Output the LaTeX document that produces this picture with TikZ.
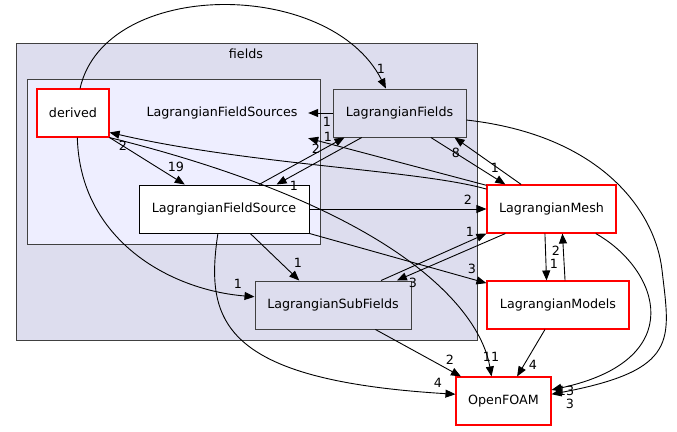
\documentclass[tikz,border=0pt]{standalone}
\usepackage{fontspec}
\setmainfont{DejaVu Sans}
\usetikzlibrary{arrows.meta}
\definecolor{dirFill}{HTML}{DDDDEE}
\definecolor{subFill}{HTML}{EEEEFF}
\definecolor{dirLine}{HTML}{404040}
\definecolor{extRed}{HTML}{FF0000}

\begin{document}
\begin{tikzpicture}[
        x=1pt, y=-1pt,
        font=\fontsize{12.7}{15}\selectfont,
        cluster/.style={rectangle, draw=dirLine, fill=dirFill, line width=1pt, inner sep=0pt},
        subcluster/.style={cluster, fill=subFill},
        dirbox/.style={rectangle, draw=dirLine, fill=dirFill, line width=1pt, minimum height=48pt, inner sep=0pt},
        leaf/.style={rectangle, draw=black, fill=white, line width=1pt, minimum height=48pt, inner sep=0pt},
        ext/.style={rectangle, draw=extRed, fill=white, line width=1.1pt, minimum height=48pt, inner sep=0pt},
        dep/.style={-{Triangle[length=10pt,width=8pt]}, line width=0.9pt},
        num/.style={inner sep=0pt}
    ]
        \useasboundingbox (0,0) rectangle (677,431);

        % Clusters
        \node[cluster, minimum width=461pt, minimum height=297pt] (fields) at (246.5,191.5) {};
        \node (fieldslbl) at (246,54) {fields};
        \node[subcluster, minimum width=293pt, minimum height=165pt] (srcdir) at (173.5,161.5) {};
        \node[inner sep=0pt, minimum width=172pt, minimum height=50pt] (lfsrcs) at (222,113) {LagrangianFieldSources};

        % Directories
        \node[ext, minimum width=72pt] (derived) at (73,113) {derived};
        \node[dirbox, minimum width=133pt] (lfields) at (399.5,113) {LagrangianFields};
        \node[leaf, minimum width=170pt] (lfsrc) at (224,209) {LagrangianFieldSource};
        \node[ext, minimum width=129pt] (lmesh) at (551.5,209) {LagrangianMesh};
        \node[dirbox, minimum width=156pt] (lsub) at (333,305) {LagrangianSubFields};
        \node[ext, minimum width=142pt] (lmodels) at (558,305) {LagrangianModels};
        \node[ext, minimum width=95pt] (foam) at (503.5,401) {OpenFOAM};

        % derived
        \draw[dep] (derived.74) .. controls (105,-22) and (330,-22) .. (lfields.119);
        \draw[dep] (derived.-80) .. controls (80,240) and (170,290) .. (lsub.174);
        \draw[dep] (derived.south east) -- (lfsrc.148);
        \draw[dep] (derived.south east) .. controls (400,210) and (480,310) .. (foam.116);

        % LagrangianFields
        \draw[dep] (lfields.west) -- (lfsrcs.east);
        \draw[dep] (lfields.-147) -- (lfsrc.25);
        \draw[dep] (lfields.-38) -- (lmesh.152);
        \draw[dep] (lfields.-6) .. controls (600,135) and (655,210) .. (662,270)
            .. controls (670,340) and (680,370) .. (foam.8);

        % LagrangianFieldSource
        \draw[dep] (lfsrc.35) -- (lfields.-156);
        \draw[dep] (lfsrc.east) -- (lmesh.west);
        \draw[dep] (lfsrc.south east) -- (lmodels.163);
        \draw[dep] (lfsrc.-104) .. controls (205,320) and (220,380) .. (foam.172);
        \draw[dep] (lfsrc.-43) -- (lsub.144);

        % LagrangianMesh
        \draw[dep] (lmesh.163) .. controls (420,170) and (250,165) .. (derived.-28);
        \draw[dep] (lmesh.160) -- (lfsrcs.south east);
        \draw[dep] (lmesh.141) -- (lfields.-24);
        \draw[dep] (lmesh.-152) -- (lsub.21);
        \draw[dep] (lmesh.-105) -- (lmodels.115);
        \draw[dep] (lmesh.-29) .. controls (660,270) and (690,360) .. (foam.13);

        % LagrangianSubFields and LagrangianModels
        \draw[dep] (lsub.27) -- (lmesh.south west);
        \draw[dep] (lsub.-30) -- (foam.150);
        \draw[dep] (lmodels.74) -- (lmesh.-66);
        \draw[dep] (lmodels.-118) -- (foam.61);

        % Counts
        \node[num] (n1) at (381,69) {1};
        \node[num] (n2) at (238,284) {1};
        \node[num] (n3) at (176,167) {19};
        \node[num] (n4) at (491,357) {11};
        \node[num] (n5) at (327,122) {1};
        \node[num] (n6) at (294,186) {1};
        \node[num] (n7) at (495,168) {1};
        \node[num] (n8) at (570,404) {3};
        \node[num] (n9) at (328,137) {1};
        \node[num] (n10) at (468,200) {2};
        \node[num] (n11) at (472,269) {3};
        \node[num] (n12) at (438,383) {4};
        \node[num] (n13) at (298,263) {1};
        \node[num] (n14) at (123,146) {2};
        \node[num] (n15) at (316,149) {2};
        \node[num] (n16) at (456,153) {8};
        \node[num] (n17) at (413,283) {3};
        \node[num] (n18) at (554,264) {1};
        \node[num] (n19) at (566,391) {13};
        \node[num] (n20) at (470,232) {1};
        \node[num] (n21) at (450,360) {2};
        \node[num] (n22) at (556,251) {2};
        \node[num] (n23) at (533,365) {4};
    \end{tikzpicture}
\end{document}
